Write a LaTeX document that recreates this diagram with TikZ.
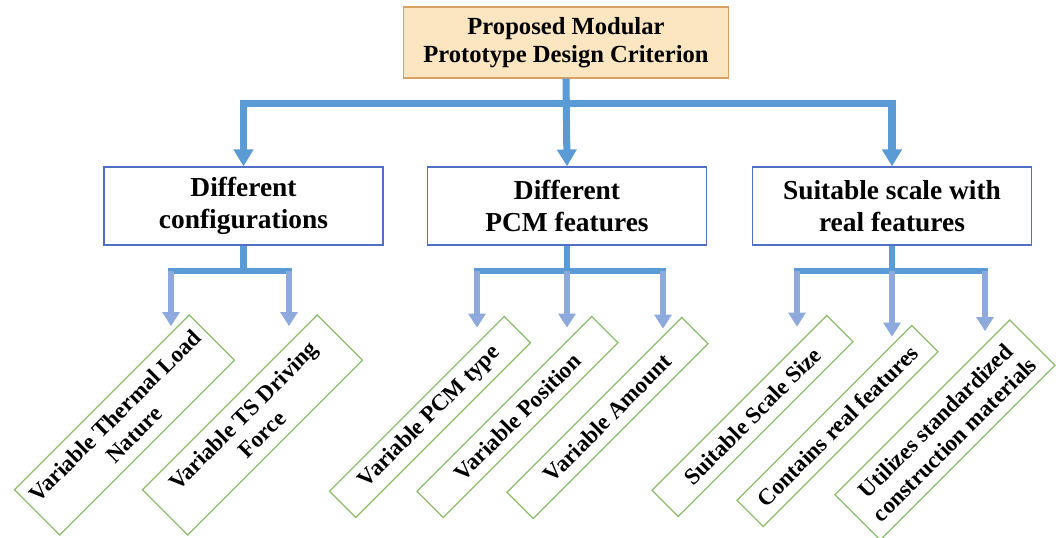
\documentclass[tikz,border=0pt]{standalone}
\usepackage{fontspec}
\setmainfont{Liberation Serif}
\usetikzlibrary{arrows.meta,positioning}

\definecolor{linkblue}{HTML}{5B9BD5}
\definecolor{dropblue}{HTML}{8EA9DB}
\definecolor{topfill}{HTML}{FCE6C2}
\definecolor{topline}{HTML}{D9A066}
\definecolor{midline}{HTML}{4F70C4}
\definecolor{leafline}{HTML}{8CBB6B}

\tikzset{
  topbox/.style={draw=topline, fill=topfill, line width=1pt, minimum width=8.125cm,
    minimum height=1.775cm, align=center, font=\fontsize{17.5}{20}\selectfont\bfseries},
  midbox/.style={draw=midline, line width=0.9pt, minimum width=6.975cm,
    minimum height=1.95cm, align=center, font=\fontsize{19.5}{23}\selectfont\bfseries},
  leafbox/.style={draw=leafline, line width=0.9pt, rotate=45, minimum width=6.175cm,
    minimum height=0.925cm, align=center, font=\fontsize{16.4}{19}\selectfont\bfseries},
  mainline/.style={draw=linkblue, line width=5pt, -{Triangle[width=13.5pt,length=12pt]}},
  barline/.style={draw=linkblue, line width=4.3pt, line cap=rect},
  droparrow/.style={draw=dropblue, line width=3.9pt, shorten >=-0.3cm,
    -{Triangle[width=12pt,length=10pt]}}
}

\begin{document}
\begin{tikzpicture}[x=0.025cm, y=0.025cm]
  \useasboundingbox (0,0) rectangle (1060,538);

  %top criterion
  \node[topbox] (crit) at (566,495.5) {Proposed Modular\\Prototype Design Criterion};

  %second level
  \node[midbox] (conf) at (243.5,332) {Different\\configurations};
  \node[midbox] (pcm) at (567,332) {Different\\PCM features};
  \node[midbox] (scale) at (892,332) {Suitable scale with\\real features};

  %leaves
  \node[leafbox, minimum height=1.6cm] (L1) at (124.5,113) {Variable Thermal Load\\Nature};
  \node[leafbox, minimum height=1.6cm] (L2) at (252.5,113) {Variable TS Driving\\Force};
  \node[leafbox] (L3) at (430,121) {Variable PCM type};
  \node[leafbox] (L4) at (517.5,121) {Variable Position};
  \node[leafbox] (L5) at (607.5,120) {Variable Amount};
  \node[leafbox] (L6) at (752.5,122) {Suitable Scale Size};
  \node[leafbox] (L7) at (837.5,112) {Contains real features};
  \node[leafbox, minimum height=1.6cm] (L8) at (945,108) {Utilizes standardized\\construction materials};

  %top branching
  \path (crit.south) -- (pcm.north) coordinate[pos=0.28] (bar);
  \draw[mainline] (crit.south) -- (pcm.north);
  \draw[mainline, {Triangle[width=13.5pt,length=12pt]}-{Triangle[width=13.5pt,length=12pt]}]
    (conf.north) -- (conf.north |- bar) -- (scale.north |- bar) -- (scale.north);

  %drop points on the lower bars
  \coordinate (d1) at (171,267);
  \coordinate (d2) at (289,267);
  \coordinate (d3) at (477,267);
  \coordinate (d4) at (567,267);
  \coordinate (d5) at (663,267);
  \coordinate (d6) at (797,267);
  \coordinate (d7) at (892,267);
  \coordinate (d8) at (985,267);

  %lower branching
  \foreach \hub/\first/\last in {conf/d1/d2, pcm/d3/d5, scale/d6/d8}{
    \draw[barline, line cap=butt] (\hub.south) -- (\hub.south |- \first);
    \draw[barline] (\first) -- (\last);
  }
  \foreach \d/\leaf in {d1/L1, d2/L2, d3/L3, d4/L4, d5/L5, d6/L6, d7/L7, d8/L8}{
    \draw[droparrow] (\d) -- (\d |- \leaf.north east);
  }

\end{tikzpicture}
\end{document}
